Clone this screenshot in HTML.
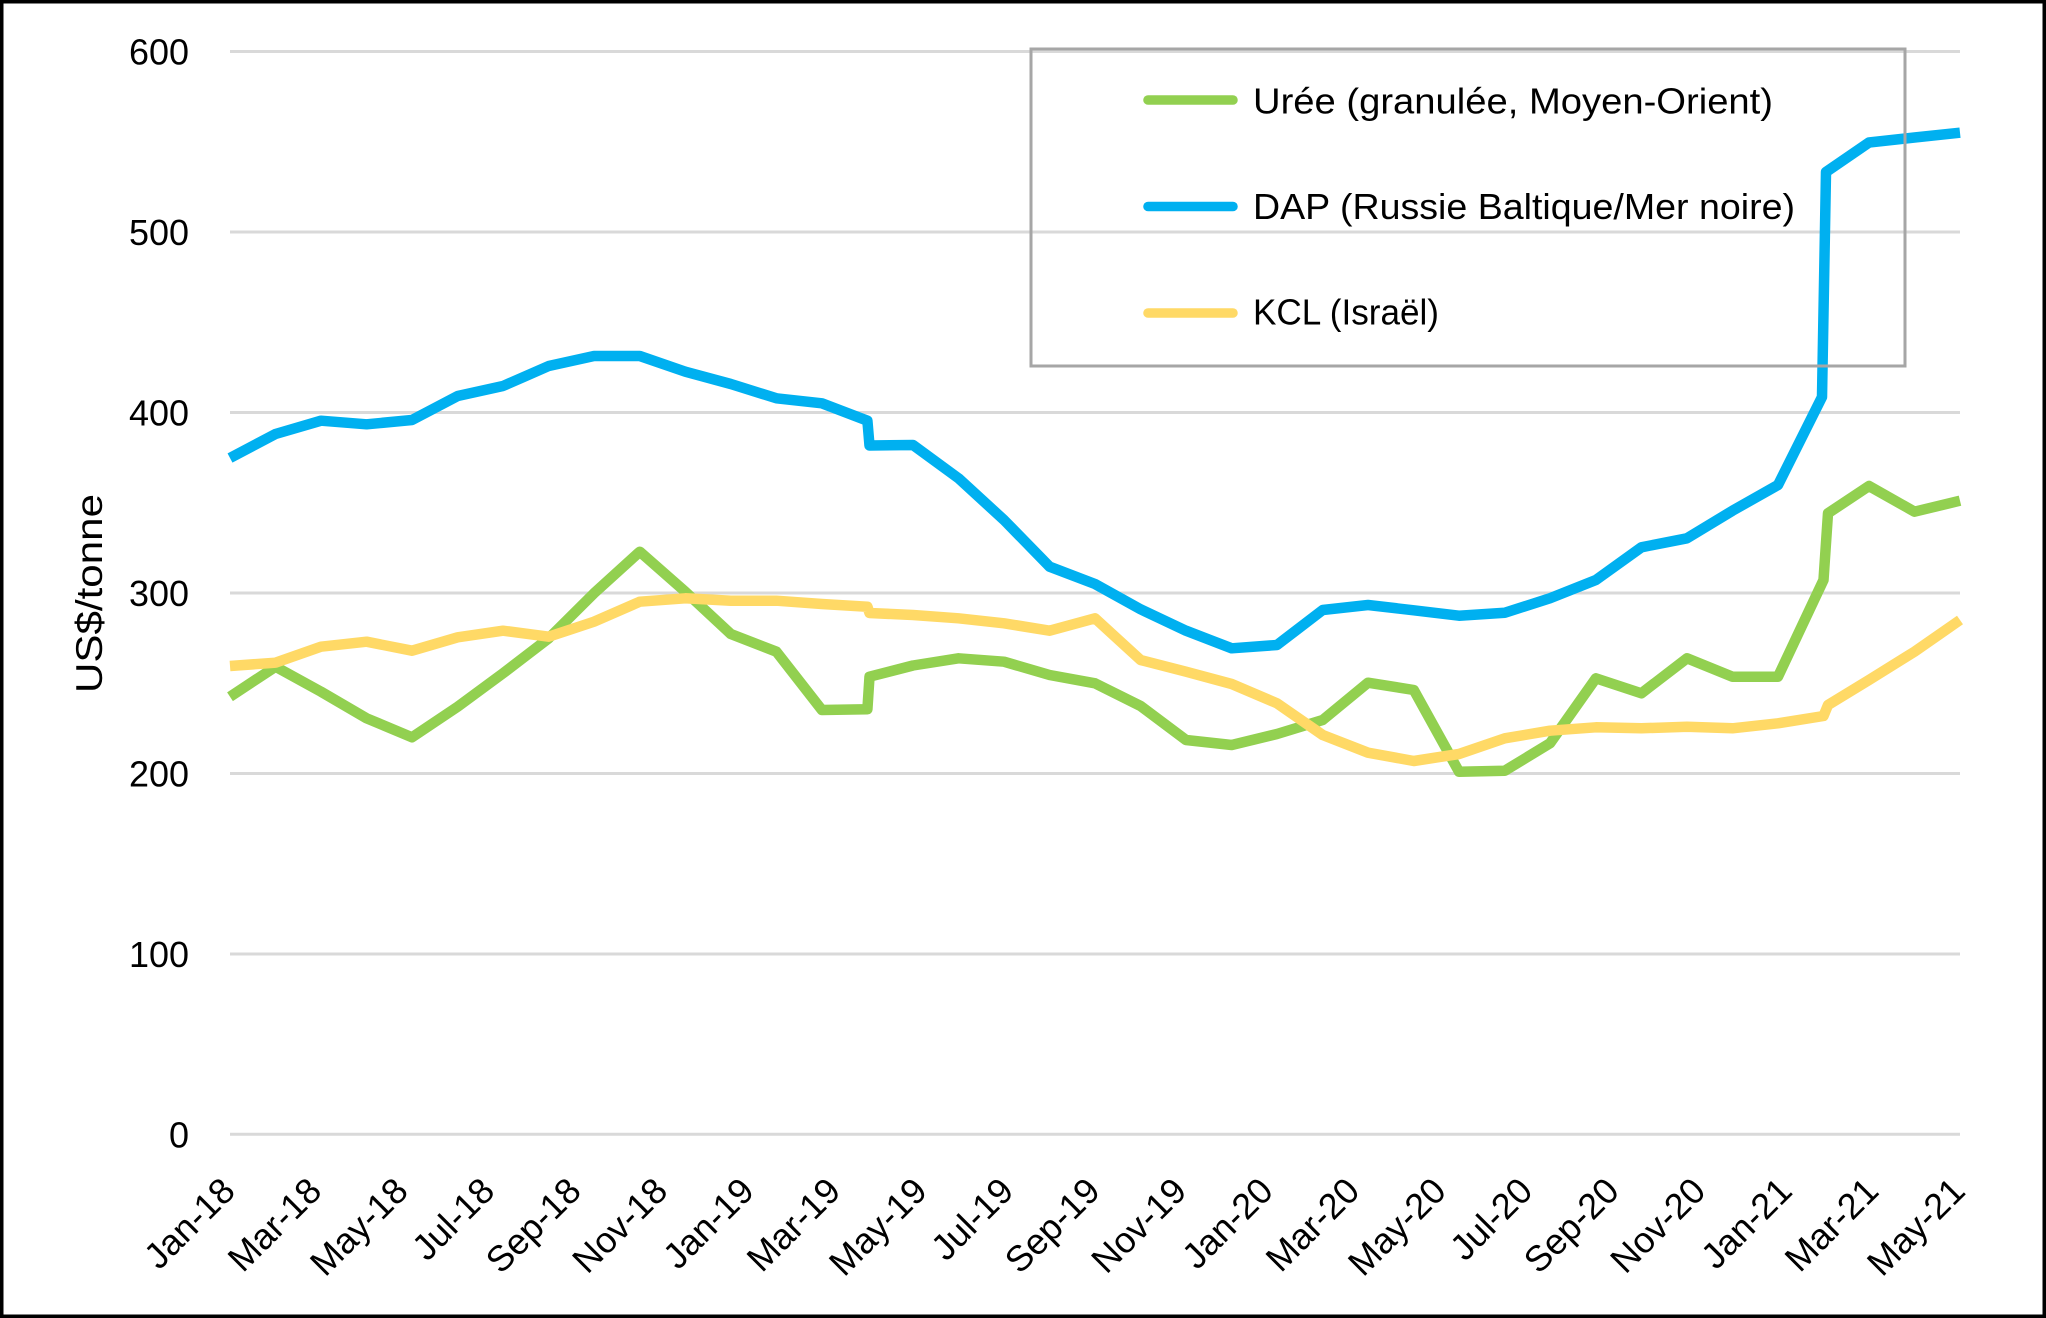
<!DOCTYPE html>
<html>
<head>
<meta charset="utf-8">
<style>
html,body{margin:0;padding:0;background:#fff;}
svg{display:block;}
text{font-family:"Liberation Sans",Arial,sans-serif;fill:#000;}
</style>
</head>
<body>
<svg width="2046" height="1318" viewBox="0 0 2046 1318" xmlns="http://www.w3.org/2000/svg">
<rect x="0" y="0" width="2046" height="1318" fill="#fff"/>
<!-- gridlines -->
<g stroke="#D9D9D9" stroke-width="3">
<line x1="230" y1="51.5" x2="1960" y2="51.5"/>
<line x1="230" y1="232" x2="1960" y2="232"/>
<line x1="230" y1="412.5" x2="1960" y2="412.5"/>
<line x1="230" y1="593" x2="1960" y2="593"/>
<line x1="230" y1="773.5" x2="1960" y2="773.5"/>
<line x1="230" y1="954" x2="1960" y2="954"/>
<line x1="230" y1="1134.3" x2="1960" y2="1134.3"/>
</g>
<!-- y tick labels -->
<g font-size="36" text-anchor="end">
<text x="189" y="64.5" textLength="60" lengthAdjust="spacingAndGlyphs">600</text>
<text x="189" y="245" textLength="60" lengthAdjust="spacingAndGlyphs">500</text>
<text x="189" y="425.5" textLength="60" lengthAdjust="spacingAndGlyphs">400</text>
<text x="189" y="606" textLength="60" lengthAdjust="spacingAndGlyphs">300</text>
<text x="189" y="786.5" textLength="60" lengthAdjust="spacingAndGlyphs">200</text>
<text x="189" y="967" textLength="60" lengthAdjust="spacingAndGlyphs">100</text>
<text x="189" y="1147.5">0</text>
</g>
<!-- y title -->
<text font-size="37" text-anchor="middle" transform="translate(102,593.5) rotate(-90)" textLength="199" lengthAdjust="spacingAndGlyphs">US$/tonne</text>
<!-- x labels -->
<g font-size="36" text-anchor="end">
<text transform="translate(237,1193) rotate(-45)">Jan-18</text>
<text transform="translate(323.5,1193) rotate(-45)">Mar-18</text>
<text transform="translate(410,1193) rotate(-45)">May-18</text>
<text transform="translate(496.5,1193) rotate(-45)">Jul-18</text>
<text transform="translate(583,1193) rotate(-45)">Sep-18</text>
<text transform="translate(669.5,1193) rotate(-45)">Nov-18</text>
<text transform="translate(756,1193) rotate(-45)">Jan-19</text>
<text transform="translate(842.5,1193) rotate(-45)">Mar-19</text>
<text transform="translate(929,1193) rotate(-45)">May-19</text>
<text transform="translate(1015.5,1193) rotate(-45)">Jul-19</text>
<text transform="translate(1102,1193) rotate(-45)">Sep-19</text>
<text transform="translate(1188.5,1193) rotate(-45)">Nov-19</text>
<text transform="translate(1275,1193) rotate(-45)">Jan-20</text>
<text transform="translate(1361.5,1193) rotate(-45)">Mar-20</text>
<text transform="translate(1448,1193) rotate(-45)">May-20</text>
<text transform="translate(1534.5,1193) rotate(-45)">Jul-20</text>
<text transform="translate(1621,1193) rotate(-45)">Sep-20</text>
<text transform="translate(1707.5,1193) rotate(-45)">Nov-20</text>
<text transform="translate(1794,1193) rotate(-45)">Jan-21</text>
<text transform="translate(1880.5,1193) rotate(-45)">Mar-21</text>
<text transform="translate(1967,1193) rotate(-45)">May-21</text>
</g>
<!-- series -->
<g fill="none" stroke-width="10.5" stroke-linejoin="round" stroke-linecap="butt">
<polyline stroke="#92D050" points="230,696.7 275.5,666.7 321,691.7 366.6,718.3 412,737.3 457.7,706.7 503,673.3 548.7,638.3 594,593.3 639.8,551.7 685.3,591.7 730.8,634 776.4,651.7 821.9,710 867.4,709.3 869.5,676.7 913,665.5 958.5,658.3 1004,661.7 1049.6,675 1095,683.3 1140.6,706 1186,740 1231.7,745 1277,734 1322.7,720 1368,682.7 1413.8,690 1459,771.7 1504.8,770.7 1550,743.3 1595.9,678.3 1641.4,693.3 1687,658.3 1732.5,676.7 1778,676.7 1823.5,580 1828,513.3 1869,486 1914.5,511.7 1960,500.7"/>
<polyline stroke="#00B0F0" points="230,458 275.5,434 321,420.7 366.6,424.3 412,420 457.7,396 503,386 548.7,366 594,356 639.8,356 685.3,371.7 730.8,384 776.4,398.3 821.9,403.3 867.4,420.7 869.5,445.5 913,445 958.5,478.3 1004,520 1049.6,566.7 1095,584 1140.6,609.3 1186,630.7 1231.7,648.3 1277,645 1322.7,610 1368,605 1413.8,610.3 1459,615.7 1504.8,612.7 1550,598.3 1595.9,580 1641.4,547.3 1687,538.3 1732.5,510.7 1778,485 1822,397 1826,172 1869,142.5 1914.5,137.5 1960,132.7"/>
<polyline stroke="#FFD966" points="230,666 275.5,662.7 321,646.7 366.6,641.7 412,650.7 457.7,637.3 503,630.7 548.7,636.7 594,621.7 639.8,601.7 685.3,598.3 730.8,600.7 776.4,600.7 821.9,604 867.4,606.7 869.5,613 913,615 958.5,618.3 1004,623.3 1049.6,630.7 1095,618.3 1140.6,660 1186,671.7 1231.7,684 1277,703.3 1322.7,735 1368,752.7 1413.8,761 1459,754 1504.8,738.3 1550,730.7 1595.9,727.3 1641.4,728.3 1687,726.7 1732.5,728.3 1778,723.3 1823.5,716 1828,705 1869,680 1914.5,651.7 1960,620"/>
</g>
<!-- legend -->
<rect x="1031" y="49" width="874" height="317" fill="none" stroke="#A6A6A6" stroke-width="3"/>
<g stroke-width="9.5" stroke-linecap="round">
<line x1="1148" y1="100" x2="1233" y2="100" stroke="#92D050"/>
<line x1="1148" y1="206.5" x2="1233" y2="206.5" stroke="#00B0F0"/>
<line x1="1148" y1="313" x2="1233" y2="313" stroke="#FFD966"/>
</g>
<g font-size="36">
<text x="1253" y="113.5" textLength="520" lengthAdjust="spacingAndGlyphs">Urée (granulée, Moyen-Orient)</text>
<text x="1253" y="219" textLength="542" lengthAdjust="spacingAndGlyphs">DAP (Russie Baltique/Mer noire)</text>
<text x="1253" y="324.5" textLength="186" lengthAdjust="spacingAndGlyphs">KCL (Israël)</text>
</g>
<!-- frame -->
<rect x="1.75" y="1.75" width="2042.5" height="1314.5" fill="none" stroke="#000" stroke-width="3.5"/>
</svg>
</body>
</html>
